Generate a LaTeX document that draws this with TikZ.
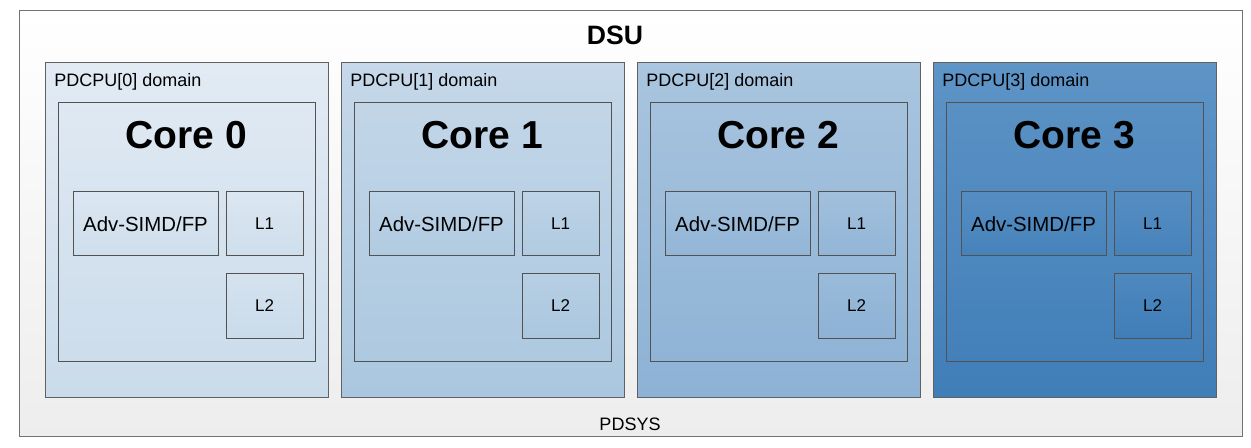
\documentclass[tikz,border=0pt]{standalone}
\usepackage{fontspec}
\setmainfont{Liberation Sans}
\usetikzlibrary{positioning}

% domain colours, light to dark
\definecolor{dtop0}{HTML}{E2EBF4}
\definecolor{dbot0}{HTML}{CADBEA}
\definecolor{dtop1}{HTML}{C6D8E9}
\definecolor{dbot1}{HTML}{AAC7DF}
\definecolor{dtop2}{HTML}{A9C5DF}
\definecolor{dbot2}{HTML}{8DB2D5}
\definecolor{dtop3}{HTML}{5E94C6}
\definecolor{dbot3}{HTML}{407EB8}

\tikzset{
  dsubox/.style = {draw=black!55, line width=0.5pt, top color=white, bottom color=black!7,
                   minimum width=611.5pt, minimum height=212.5pt, inner sep=0pt},
  domainbox/.style = {draw=black!62, line width=0.5pt, minimum width=141.5pt,
                      minimum height=167pt, inner sep=0pt},
  corebox/.style = {draw=black!68, line width=0.5pt, minimum width=128.5pt,
                    minimum height=129pt, inner sep=0pt},
  partbox/.style = {draw=black!68, line width=0.5pt, minimum height=32pt, inner sep=0pt},
  domainlabel/.style = {anchor=base west, inner sep=0pt, font=\fontsize{9}{11}\selectfont},
  coretitle/.style = {anchor=base, inner sep=0pt, font=\fontsize{19.5}{23}\selectfont\bfseries}
}

\begin{document}
\begin{tikzpicture}[x=0.5pt, y=-0.5pt]
  \useasboundingbox (0,0) rectangle (1251,448);

  \node[dsubox] (dsu) at (630.5,223.5) {};
  \node[anchor=base, inner sep=0pt, font=\fontsize{13.3}{16}\selectfont\bfseries] (dsulabel) at (615,45) {DSU};
  \node[anchor=base, inner sep=0pt, font=\fontsize{9}{11}\selectfont] (pdsys) at (630,430) {PDSYS};

  \foreach \i in {0,...,3} {
    \node[domainbox, top color=dtop\i, bottom color=dbot\i] (dom\i) at ({186.5+296*\i},230) {};
    \node[domainlabel] (dlab\i) at ({54+296*\i},87) {PDCPU[\i] domain};

    \node[corebox, below=20pt of dom\i.north, top color=dtop\i!85!dbot\i, bottom color=dbot\i!90!dtop\i] (core\i) {};
    \node[coretitle] (ctitle\i) at ({186.5+296*\i},149) {Core \i};

    \node[partbox, minimum width=72.5pt, below right=44.5pt and 7.5pt of core\i.north west,
          top color=dtop\i!70!dbot\i, bottom color=dbot\i!80!dtop\i,
          font=\fontsize{10.2}{12}\selectfont] (simd\i) {Adv-SIMD/FP};
    \node[partbox, minimum width=38.5pt, right=3.5pt of simd\i,
          top color=dtop\i!70!dbot\i, bottom color=dbot\i!80!dtop\i,
          font=\fontsize{8.5}{10}\selectfont] (lone\i) {L1};
    \node[partbox, minimum width=38.5pt, below=8.5pt of lone\i,
          top color=dtop\i!45!dbot\i, bottom color=dbot\i,
          font=\fontsize{8.5}{10}\selectfont] (ltwo\i) {L2};
  }

\end{tikzpicture}
\end{document}
